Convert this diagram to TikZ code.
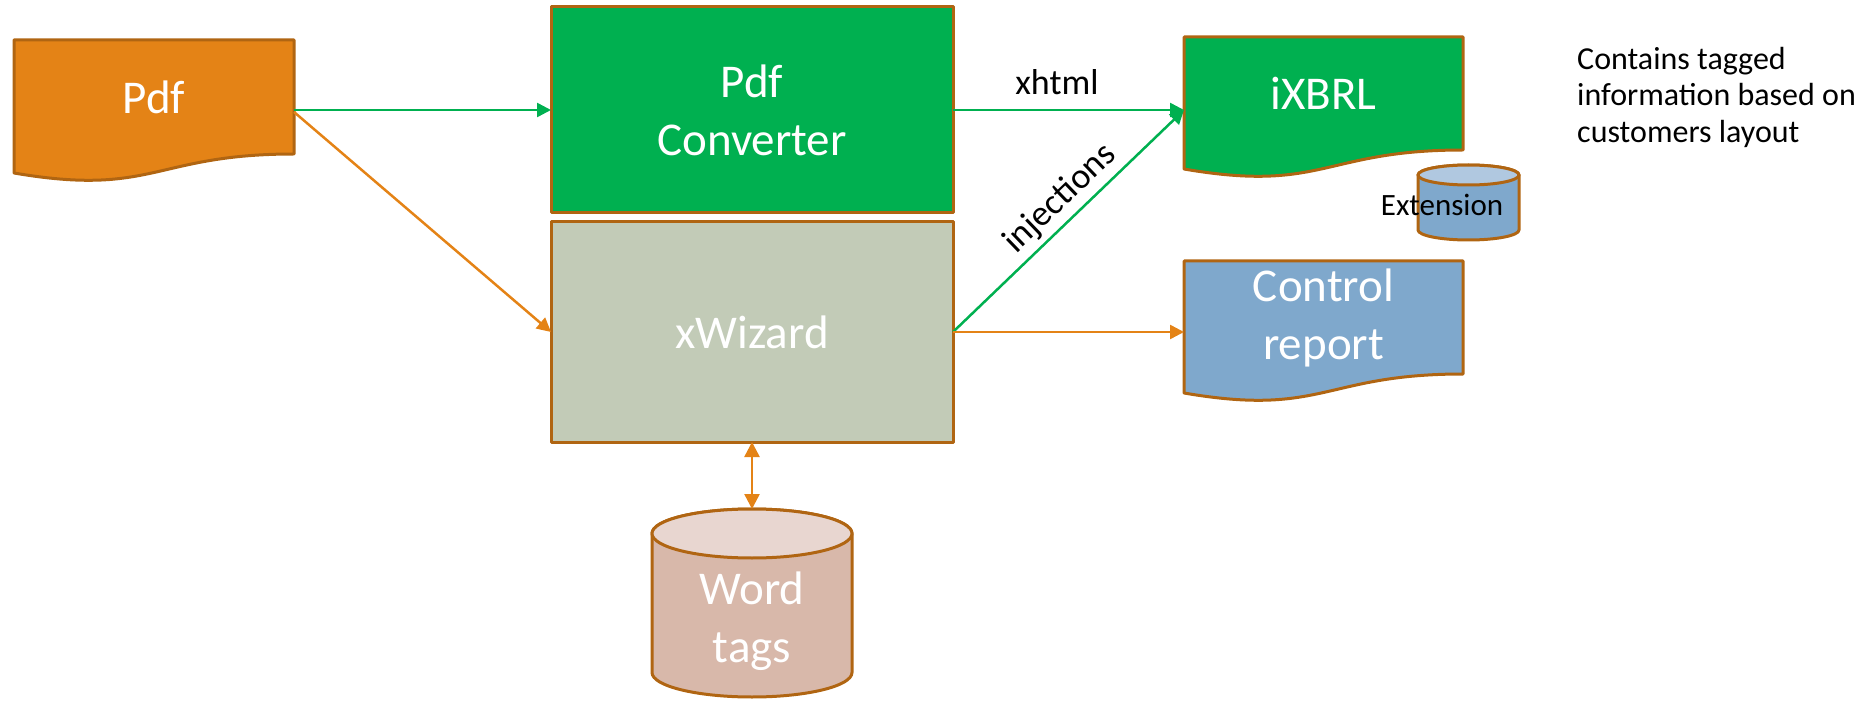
\documentclass[tikz,border=0pt]{standalone}
\usepackage{fontspec}
\setmainfont{Carlito}
\usetikzlibrary{arrows.meta}
\definecolor{brownline}{RGB}{176,101,18}
\definecolor{pdforange}{RGB}{228,131,22}
\definecolor{convgreen}{RGB}{0,176,80}
\definecolor{wizgray}{RGB}{194,203,183}
\definecolor{ctrlblue}{RGB}{127,168,204}
\definecolor{extblue}{RGB}{176,200,224}
\definecolor{tagbody}{RGB}{216,184,170}
\definecolor{tagtop}{RGB}{232,214,208}
\pgfdeclarelayer{background}
\pgfsetlayers{background,main}
% document outline below a named node
\newcommand\docshape[2]{%
  \begin{pgfonlayer}{background}
    \draw[shapeborder, fill=#2] (#1.north west) -- (#1.north east) -- (#1.south east)
      .. controls (#1.south) and ([yshift=-43pt]#1.south) .. ([yshift=-19pt]#1.south west) -- cycle;
  \end{pgfonlayer}}
% cylinder round a named node: node, body, top, x radius, y radius
\newcommand\cylshape[5]{%
  \begin{pgfonlayer}{background}
    \draw[shapeborder, fill=#2] ([yshift=-#5pt]#1.north west) -- ([yshift=#5pt]#1.south west)
      arc[start angle=180, end angle=360, x radius=#4pt, y radius=#5pt]
      -- ([yshift=-#5pt]#1.north east)
      arc[start angle=0, end angle=180, x radius=#4pt, y radius=#5pt] -- cycle;
    \draw[shapeborder, fill=#3] ([yshift=-#5pt]#1.north) ellipse[x radius=#4pt, y radius=#5pt];
  \end{pgfonlayer}}
\begin{document}
\begin{tikzpicture}
    [x=1pt, y=-1pt,
    shapeborder/.style={draw=brownline, line width=3pt, line join=round},
    box/.style={rectangle, inner sep=0pt, outer sep=0pt, text=white, align=center,
      font=\fontsize{47}{58}\selectfont},
    greenarrow/.style={draw=convgreen, line width=2.5pt, -{Triangle[length=14pt,width=14pt]}},
    orangearrow/.style={draw=pdforange, line width=2.5pt, -{Triangle[length=14pt,width=14pt]}},
    small/.style={text=black, inner sep=0pt, font=\fontsize{36}{42}\selectfont}]
  \useasboundingbox (0,0) rectangle (1874,703);

  \node[box, minimum width=280pt, minimum height=114pt] (pdf) at (154,97) {Pdf};
  \node[box, shapeborder, fill=convgreen, minimum width=402pt, minimum height=206pt]
    (conv) at (752,110) {Pdf\\Converter};
  \node[box, shapeborder, fill=wizgray, minimum width=402pt, minimum height=220pt]
    (wiz) at (752,332) {xWizard};
  \node[box, minimum width=279pt, minimum height=113pt] (ixbrl) at (1323.5,93.5) {iXBRL};
  \node[box, minimum width=279pt, minimum height=113pt] (ctrl) at (1323.5,317.5) {Control\\report};
  \node[box, minimum width=101pt, minimum height=75pt] (ext) at (1468.5,202.5) {};
  \node[box, minimum width=200pt, minimum height=188pt] (wtags) at (752,603) {};
  \node[small, font=\fontsize{31}{37}\selectfont] (exttxt) at (1442,205) {Extension};
  \node[box] (wtagstxt) at (752,621) {Word\\tags};
  \node[small, anchor=west, align=left, font=\fontsize{32}{36.5}\selectfont]
    (note) at (1577,97) {Contains tagged\\information based on\\customers layout};

  \docshape{pdf}{pdforange}
  \docshape{ixbrl}{convgreen}
  \docshape{ctrl}{ctrlblue}
  \cylshape{ext}{ctrlblue}{extblue}{50.5}{10}
  \cylshape{wtags}{tagbody}{tagtop}{100}{24.5}

  \draw[greenarrow] (pdf.east |- conv.west) -- (conv.west);
  \draw[orangearrow] ([yshift=-15pt]pdf.east) -- (wiz.west);
  \draw[greenarrow] (conv.east) -- (conv.east -| ixbrl.west)
    node[small, pos=0.45, above=14pt] {xhtml};
  \draw[greenarrow] (wiz.east) -- (conv.east -| ixbrl.west)
    node[small, sloped, pos=0.53, above=5pt] {injections};
  \draw[orangearrow] (wiz.east) -- (wiz.east -| ctrl.west);
  \draw[orangearrow, {Triangle[length=15pt,width=15pt]}-{Triangle[length=15pt,width=15pt]}]
    (wiz.south) -- (wtags.north);
\end{tikzpicture}
\end{document}
